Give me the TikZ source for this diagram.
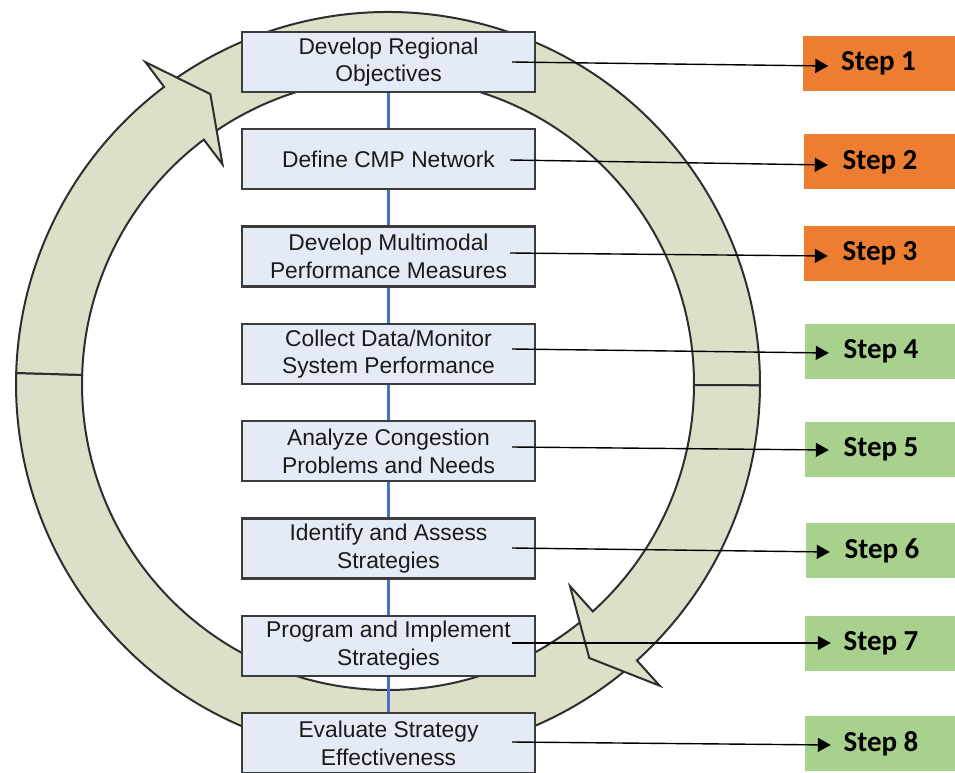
\documentclass[tikz,border=0pt]{standalone}
\usepackage{fontspec}
\setmainfont{Liberation Sans}
\newfontfamily\stepfont{Carlito}
\usetikzlibrary{arrows.meta,calc}
\definecolor{ringfill}{HTML}{DCE0C9}
\definecolor{ringline}{HTML}{2E2E2E}
\definecolor{boxfill}{HTML}{E5EBF6}
\definecolor{boxline}{HTML}{3C3C3C}
\definecolor{boxtext}{HTML}{1A1A1A}
\definecolor{linkblue}{HTML}{4472C4}
\definecolor{steporange}{HTML}{ED7D31}
\definecolor{stepgreen}{HTML}{A9D18E}
\begin{document}
\begin{tikzpicture}[x=1pt,y=1pt,
  ringpart/.style={fill=ringfill, draw=ringline, line width=2pt, line join=miter},
  procbox/.style={draw=boxline, fill=boxfill, line width=2.2pt, minimum width=293pt,
    minimum height=60pt, inner sep=0pt, align=center, text=boxtext,
    font=\fontsize{22.8}{27.5}\selectfont},
  stepbox/.style={fill=#1, minimum width=152pt, minimum height=55pt, inner sep=0pt,
    font=\stepfont\bfseries\fontsize{29}{30}\selectfont},
  link/.style={draw=linkblue, line width=3.8pt},
  pointer/.style={draw=black, line width=1.4pt, -{Triangle[length=13pt,width=14pt]}}]
\useasboundingbox (0,0) rectangle (955,772);

% circular cycle made of four bands, two of them ending in arrowheads
\begin{scope}[shift={(388,388)}]
  % lower band, from the bottom-right arrowhead round to the left
  \draw[ringpart] (-48:372pt) arc[start angle=-48, end angle=-181.7, radius=372pt]
    -- (-181.7:306pt) arc[start angle=-181.7, end angle=-48, radius=306pt] -- cycle;
  % upper band, from the top-left arrowhead round to the right
  \draw[ringpart] (127:372pt) arc[start angle=127, end angle=-0.2, radius=372pt]
    -- (-0.2:306pt) arc[start angle=-0.2, end angle=127, radius=306pt] -- cycle;
  % right band with its arrowhead
  \draw[ringpart] (-0.2:372pt) arc[start angle=-0.2, end angle=-48, radius=372pt]
    -- (-48:406pt) -- (-53.7:340pt) -- (-48:272pt) -- (-48:306pt)
    arc[start angle=-48, end angle=-0.2, radius=306pt] -- cycle;
  % left band with its arrowhead
  \draw[ringpart] (178.3:372pt) arc[start angle=178.3, end angle=127, radius=372pt]
    -- (127:403pt) -- (121.5:340pt) -- (127:275pt) -- (127:306pt)
    arc[start angle=127, end angle=178.3, radius=306pt] -- cycle;
\end{scope}

% process boxes
\node[procbox] (b1) at (388.5,710.0) {Develop Regional\\Objectives};
\node[procbox] (b2) at (388.5,612.7) {Define CMP Network};
\node[procbox] (b3) at (388.5,515.4) {Develop Multimodal\\Performance Measures};
\node[procbox] (b4) at (388.5,418.1) {Collect Data/Monitor\\System Performance};
\node[procbox] (b5) at (388.5,320.8) {Analyze Congestion\\Problems and Needs};
\node[procbox] (b6) at (388.5,223.5) {Identify and Assess\\Strategies};
\node[procbox] (b7) at (388.5,126.2) {Program and Implement\\Strategies};
\node[procbox] (b8) at (388.5,28.9) {Evaluate Strategy\\Effectiveness};

% links between successive boxes
\foreach \a/\b in {b1/b2,b2/b3,b3/b4,b4/b5,b5/b6,b6/b7,b7/b8}
  \draw[link] (\a.south) -- (\b.north);

% step labels
\node[stepbox=steporange] (s1) at (878.5,708.5) {Step 1};
\node[stepbox=steporange] (s2) at (880,610.0) {Step 2};
\node[stepbox=steporange] (s3) at (880,518.5) {Step 3};
\node[stepbox=stepgreen]  (s4) at (881,420.5) {Step 4};
\node[stepbox=stepgreen]  (s5) at (881,323.0) {Step 5};
\node[stepbox=stepgreen]  (s6) at (882,221.5) {Step 6};
\node[stepbox=stepgreen]  (s7) at (881,129.0) {Step 7};
\node[stepbox=stepgreen]  (s8) at (881,28.5) {Step 8};

% pointers from each box to its step
\draw[pointer] ($(b1.center)+(123.5,0)$)  -- ($(s1.west)+(26,-2.5)$);
\draw[pointer] ($(b2.center)+(121.5,-0.7)$) -- ($(s2.west)+(24,-3)$);
\draw[pointer] ($(b3.center)+(121.5,3.6)$)  -- ($(s3.west)+(24,-2.5)$);
\draw[pointer] ($(b4.center)+(123.5,4.9)$)  -- ($(s4.west)+(24,-1.5)$);
\draw[pointer] ($(b5.center)+(123.5,4.2)$)  -- ($(s5.west)+(24,-1)$);
\draw[pointer] ($(b6.center)+(123.5,0.5)$)  -- ($(s6.west)+(24,-1.5)$);
\draw[pointer] ($(b7.center)+(123.5,2.8)$)  -- ($(s7.west)+(26,0)$);
\draw[pointer] ($(b8.center)+(123.5,1.1)$)  -- ($(s8.west)+(26,-1.5)$);
\end{tikzpicture}
\end{document}
